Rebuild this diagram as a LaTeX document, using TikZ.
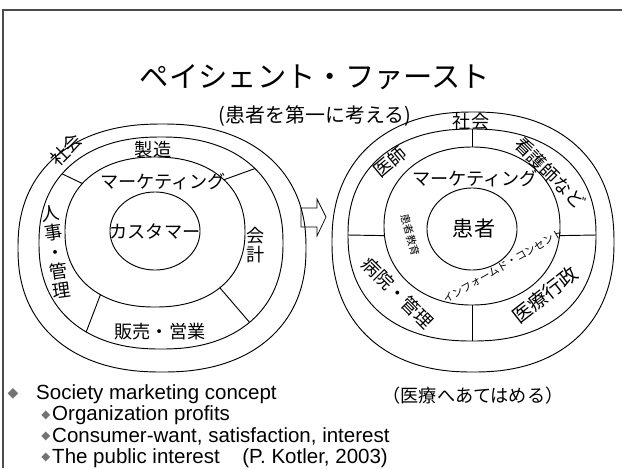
\documentclass[tikz,border=0pt]{standalone}
\usepackage{fontspec}
\setmainfont{Liberation Sans}
\newfontfamily\jp{Noto Sans CJK JP}
\newfontfamily\sym{DejaVu Sans}
\tikzset{
  ring/.style={draw, line width=0.8pt},
  jlab/.style={font=\jp\fontsize{15.5}{16.6}\selectfont, inner sep=0pt},
  jbig/.style={font=\jp\fontsize{18}{20}\selectfont, inner sep=0pt},
  jsmall/.style={font=\jp\fontsize{9}{10}\selectfont, inner sep=0pt},
  body/.style={font=\fontsize{17.5}{20}\selectfont, inner sep=0pt, anchor=west},
  bul/.style={font=\sym\fontsize{10}{10}\selectfont, text=black!55, inner sep=0pt},
}
\begin{document}
\begin{tikzpicture}[x=0.03cm, y=-0.03cm]
\useasboundingbox (0,0) rectangle (622,468);
\draw[line width=1.6pt, black!70] (3,468) -- (3,10) -- (622,10);

\node[font=\jp\fontsize{25}{28}\selectfont, inner sep=0pt](title)at(315,77){ペイシェント・ファースト};
\node[font=\jp\fontsize{17}{19}\selectfont, inner sep=0pt](subtitle)at(315,116){(患者を第一に考える)};

% rings: centre x, centre y, x radius, y radius, exponent
\foreach \cx/\cy/\rx/\ry/\e in {162/248/144/124/0.88, 161/243/122/106/0.88, 155/232/90/75/0.9, 155/231/45/39/1,
                                473/242/141/130/0.88, 472/235/124/106/0.88, 472/226/88/79/0.95, 472/229/45/41/1}
  \draw[ring] plot[domain=0.5:360.5, samples=145, smooth cycle]
    ({\cx+\rx*sign(cos(\x))*abs(cos(\x))^\e},{\cy-\ry*sign(sin(\x))*abs(sin(\x))^\e});

% dividers
\foreach \t in {142,42,-46,-125}
  \draw[ring] ({161+122*sign(cos(\t))*abs(cos(\t))^0.88},{243-106*sign(sin(\t))*abs(sin(\t))^0.88})
    -- ({155+90*sign(cos(\t))*abs(cos(\t))^0.9},{232-75*sign(sin(\t))*abs(sin(\t))^0.9});
\foreach \a/\b in {90/90,0/-7,180/187,270/270}
  \draw[ring] ({472+124*cos(\a)},{235-106*sin(\a)}) -- ({472+88*cos(\b)},{226-79*sin(\b)});

% left
\node[jlab, rotate=45](lsoc)at(66,150){社会};
\node[jlab](lmfg)at(153,150){製造};
\node[jlab](lmkt)at(163,182){マーケティング};
\node[jlab](lcus)at(155,232){カスタマー};
\node[jlab, align=center, rotate=8](lhr)at(56,252){人\\事\\・\\管\\理};
\node[jlab, align=center](lacc)at(256,245){会\\計};
\node[jlab](lsal)at(160,332){販売・営業};

% arrow
\draw[ring, line width=0.6pt] (301,208) -- (317,208) -- (317,199) -- (326,217) -- (317,236) -- (317,227) -- (301,227) -- cycle;

% right
\node[jlab](rsoc)at(471,122){社会};
\node[jlab, rotate=40](rdoc)at(390,162){医師};
\node[jlab, rotate=-45](rnur)at(550,173){看護師など};
\node[jlab](rmkt)at(475,179){マーケティング};
\node[jbig](rpat)at(474,228){患者};
\node[jsmall, rotate=-74](redu)at(410,235){患者教育};
\node[jsmall, rotate=30](rinf)at(503,266){インフォームド・コンセント};
\node[jlab, rotate=-45](rhos)at(398,293){病院・管理};
\node[jlab, font=\jp\fontsize{16.5}{18}\selectfont, rotate=38](radm)at(545,295){医療行政};
\node[jlab](rnote)at(473,396){（医療へあてはめる）};

% list
\node[bul, font=\sym\fontsize{12}{12}\selectfont](b0)at(13,394){◆};
\node[body](t0)at(36,394){Society marketing concept};
\foreach \txt [count=\i] in {Organization profits, {Consumer-want, satisfaction, interest}, {The public interest\hspace{1.1em}(P. Kotler, 2003)}} {
  \node[bul](b\i)at(46,394+21.3*\i){◆};
  \node[body](t\i)at(52,394+21.3*\i){\txt};}
\end{tikzpicture}
\end{document}
